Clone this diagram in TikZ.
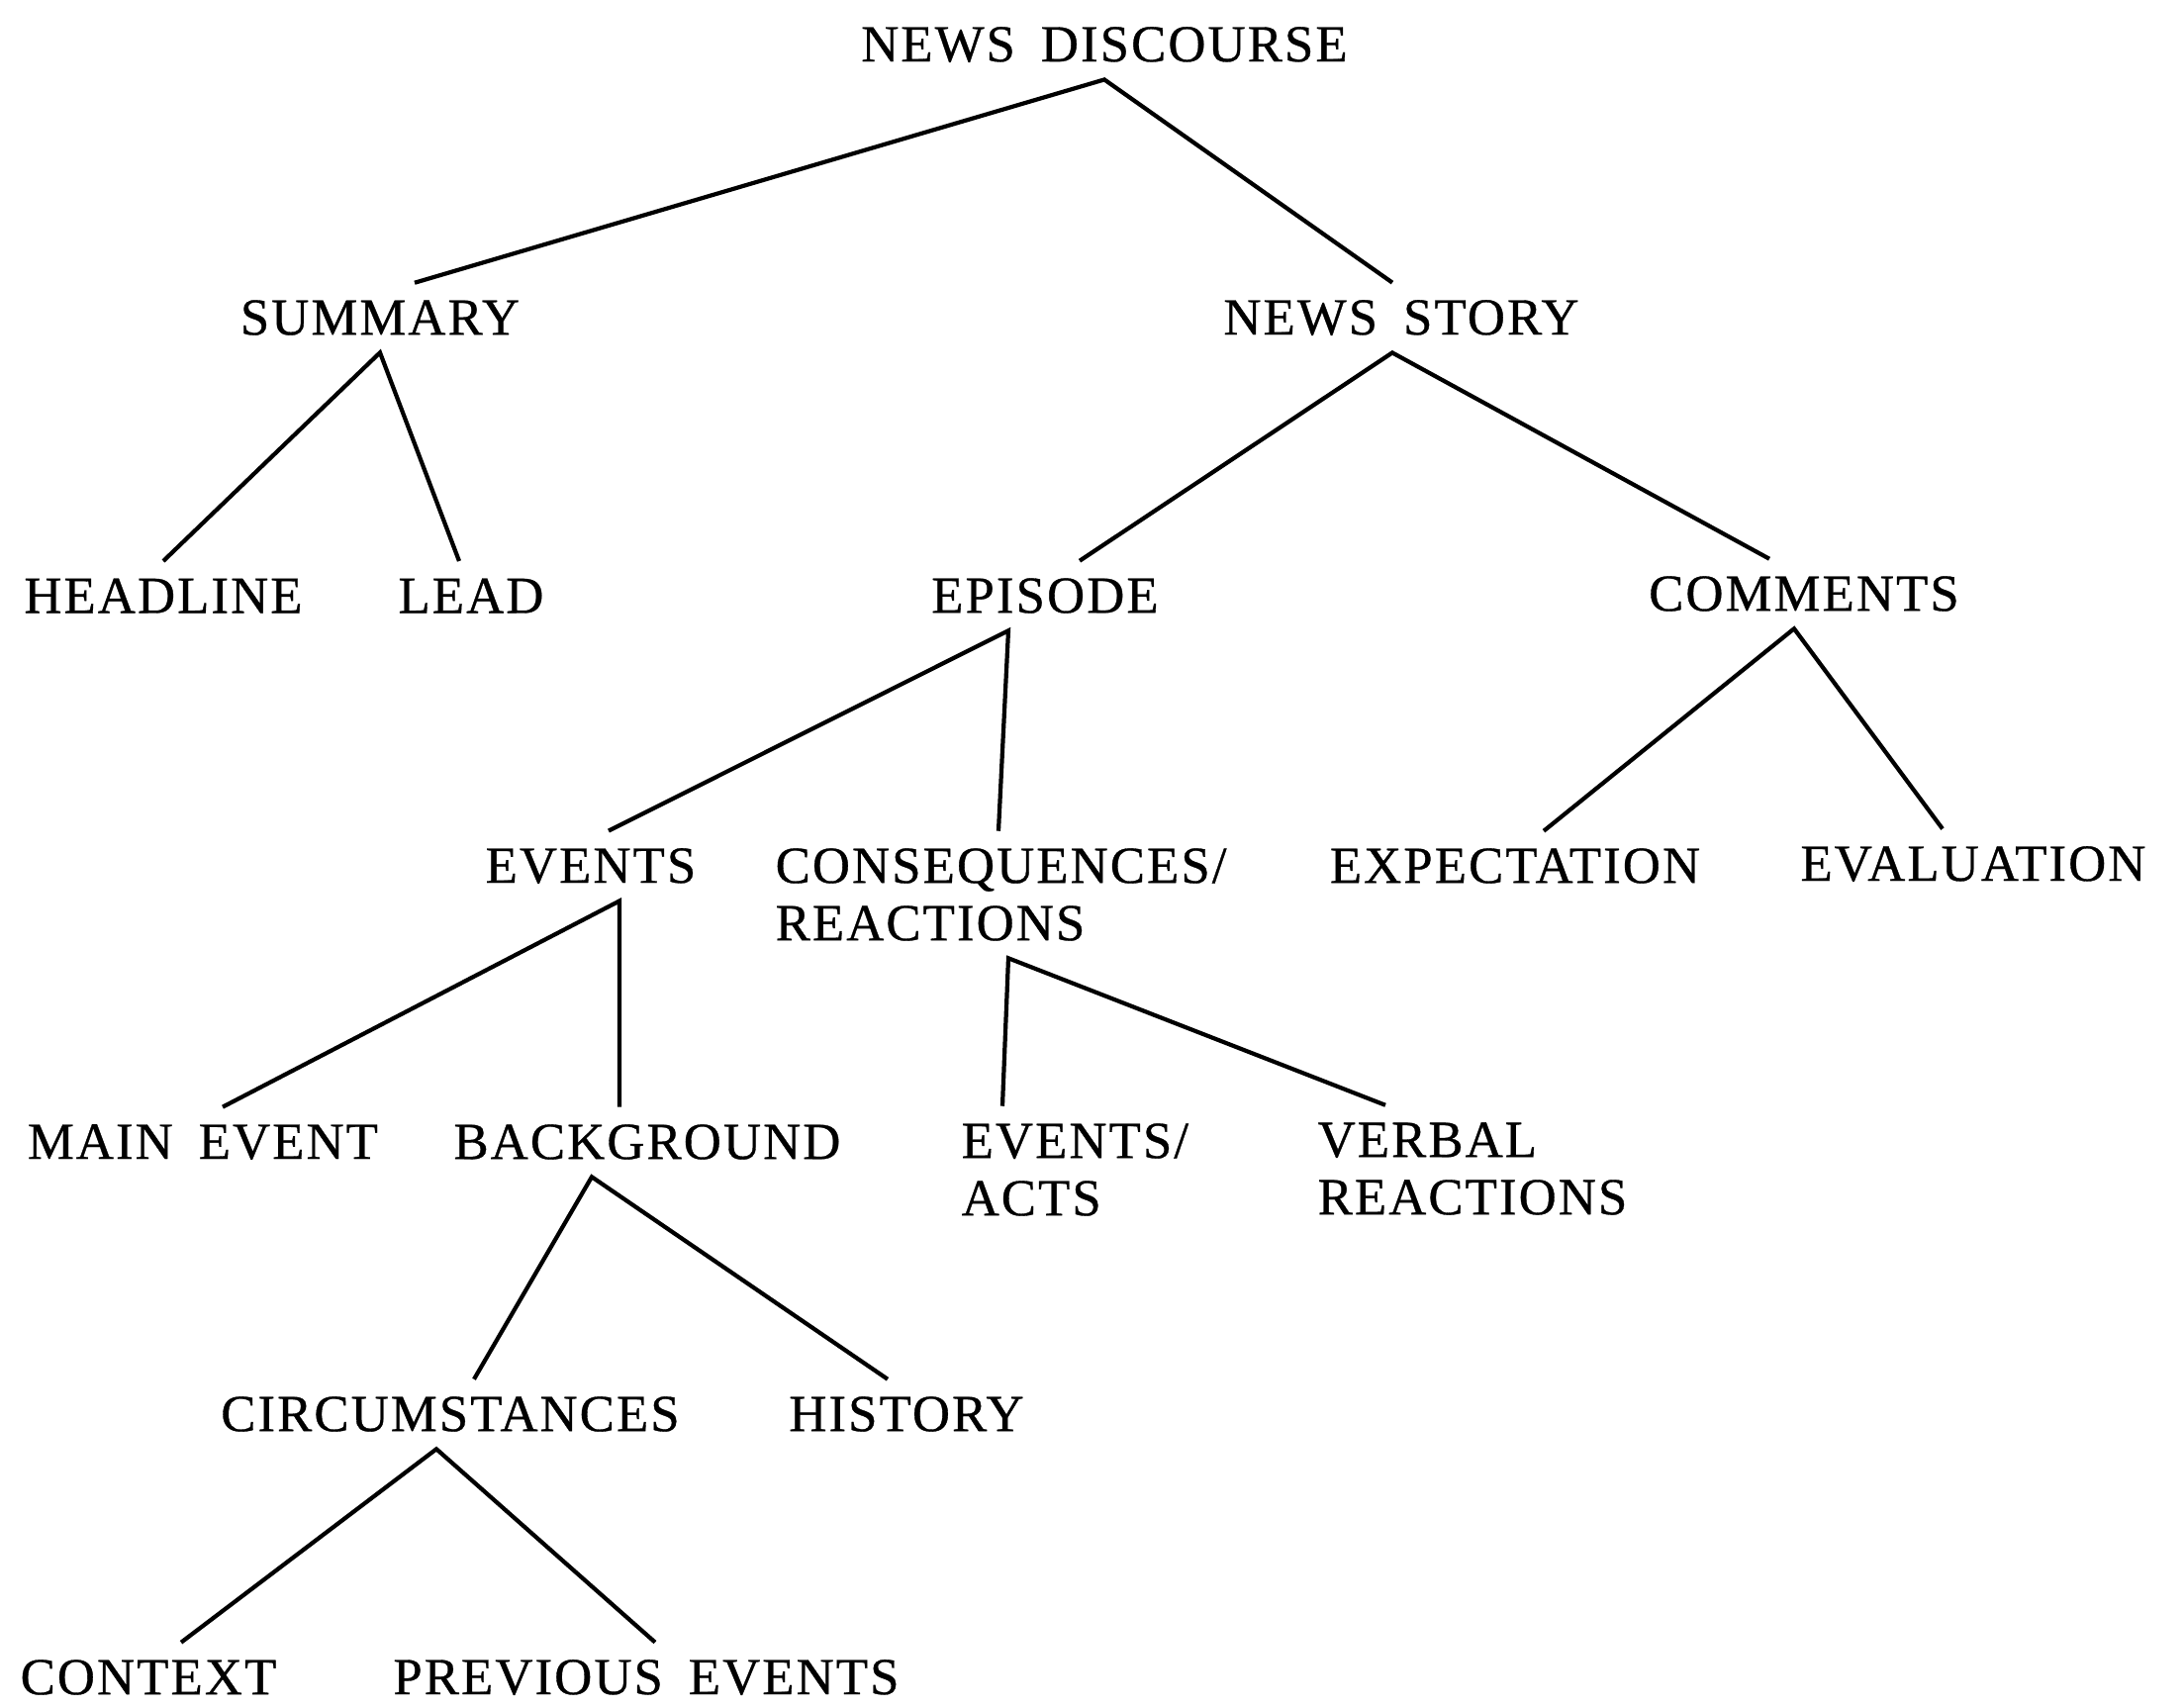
\documentclass[tikz,border=0pt]{standalone}
\usepackage{fontspec}
\setmainfont{Liberation Serif}[LetterSpace=4,WordSpace=1.7,FakeBold=0.6]

\tikzset{
    term/.style={font=\fontsize{15}{16.5}\selectfont, inner sep=0pt, outer ysep=5pt},
    branch/.style={line width=1.2pt}
}

\begin{document}
\begin{tikzpicture}
        \useasboundingbox (0,0) rectangle (22.07,-17.25);
        % Level 0 and 1
        \node[term] (nd) at (11.16,-0.45) {NEWS DISCOURSE};
        \node[term] (sm) at (3.84,-3.21) {SUMMARY};
        \node[term] (ns) at (14.16,-3.21) {NEWS STORY};
        % Level 2
        \node[term] (hl) at (1.65,-6.02) {HEADLINE};
        \node[term] (ld) at (4.76,-6.02) {LEAD};
        \node[term] (ep) at (10.56,-6.02) {EPISODE};
        \node[term] (cm) at (18.23,-6.00) {COMMENTS};
        % Level 3
        \node[term] (ev) at (5.97,-8.75) {EVENTS};
        \node[term, anchor=west, align=left] (cr) at (7.83,-9.04) {CONSEQUENCES/\\REACTIONS};
        \node[term] (ex) at (15.31,-8.75) {EXPECTATION};
        \node[term] (el) at (19.94,-8.73) {EVALUATION};
        % Level 4
        \node[term] (me) at (2.05,-11.54) {MAIN EVENT};
        \node[term] (bg) at (6.54,-11.54) {BACKGROUND};
        \node[term, anchor=west, align=left] (ea) at (9.71,-11.82) {EVENTS/\\ACTS};
        \node[term, anchor=west, align=left] (vr) at (13.31,-11.81) {VERBAL\\REACTIONS};
        % Level 5 and 6
        \node[term] (ci) at (4.55,-14.29) {CIRCUMSTANCES};
        \node[term] (hi) at (9.16,-14.29) {HISTORY};
        \node[term] (cx) at (1.50,-16.95) {CONTEXT};
        \node[term] (pe) at (6.53,-16.95) {PREVIOUS EVENTS};

        % Draw the branches
        \draw[branch] ([xshift=3.5mm]sm.north) -- (nd.south) -- ([xshift=-0.9mm]ns.north);
        \draw[branch] (hl.north) -- (sm.south) -- ([xshift=-1.2mm]ld.north);
        \draw[branch] ([xshift=3.5mm]ep.north) -- ([xshift=-0.9mm]ns.south) -- ([xshift=-3.5mm]cm.north);
        \draw[branch] ([xshift=1.8mm]ev.north) -- ([xshift=-3.7mm]ep.south) -- ([xshift=22.6mm]cr.north west);
        \draw[branch] ([xshift=2.9mm]ex.north) -- ([xshift=-1mm]cm.south) -- ([xshift=-3.1mm]el.north);
        \draw[branch] ([xshift=2mm]me.north) -- ([xshift=2.9mm]ev.south) -- ([xshift=-2.8mm]bg.north);
        \draw[branch] ([xshift=4.2mm]ea.north west) -- ([xshift=23.6mm]cr.south west) -- ([xshift=6.9mm]vr.north west);
        \draw[branch] ([xshift=2.4mm]ci.north) -- ([xshift=-5.6mm]bg.south) -- ([xshift=-1.9mm]hi.north);
        \draw[branch] ([xshift=3.3mm]cx.north) -- ([xshift=-1.4mm]ci.south) -- ([xshift=0.9mm]pe.north);
\end{tikzpicture}
\end{document}
